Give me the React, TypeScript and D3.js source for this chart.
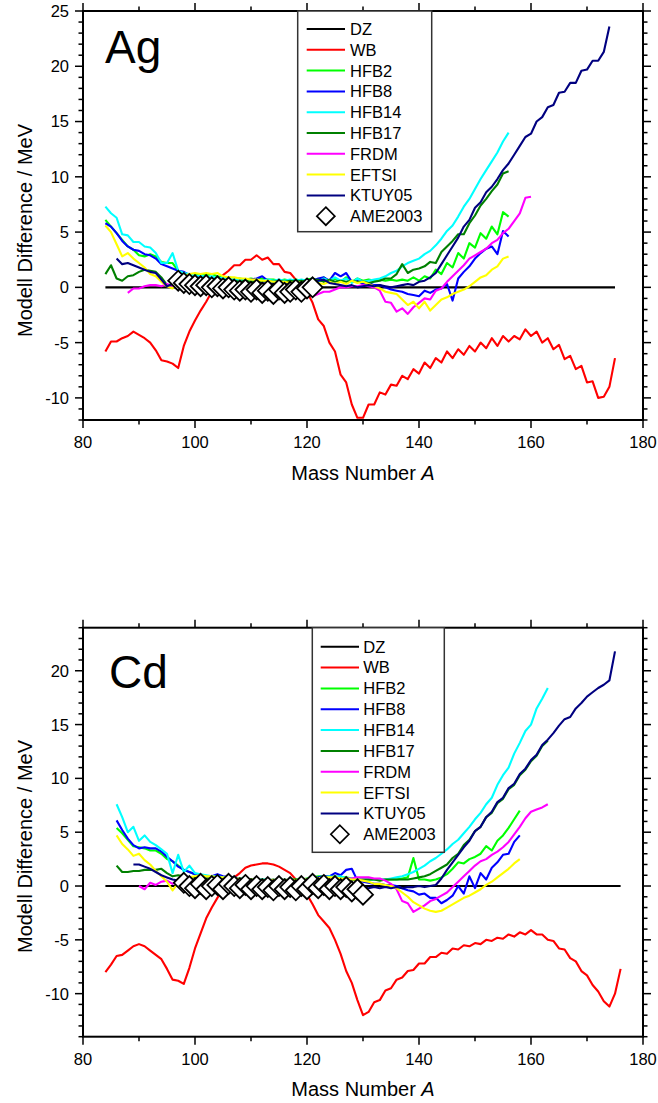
import React from "react";
import * as d3 from "d3";

const W = 658;
const H = 1103;
const FONT = "'Liberation Sans', Arial, Helvetica, sans-serif";

// ---- legend / series metadata ----
const SERIES_NAMES = ["DZ", "WB", "HFB2", "HFB8", "HFB14", "HFB17", "FRDM", "EFTSI", "KTUY05"];
const SERIES_COLORS = ["#000000", "#ff0000", "#00ff00", "#0000ff", "#00ffff", "#008000", "#ff00ff", "#ffff00", "#000080"];
const AME_NAME = "AME2003";

// ---- axis ticks ----
const X_MAJOR = [80, 100, 120, 140, 160, 180];
const X_MINOR = [90, 110, 130, 150, 170];
const AG_Y_MAJOR = [-10, -5, 0, 5, 10, 15, 20, 25];
const CD_Y_MAJOR = [-10, -5, 0, 5, 10, 15, 20];

// ================= Ag (top panel) =================
const AG_DZ_A = [84, 175];
const AG_DZ = [0, 0];
const AG_WB_START = 84;
const AG_WB = [
  -5.8, -4.9, -4.9, -4.6, -4.4, -4.0, -4.3, -4.6, -5.0, -5.7,
  -6.6, -6.7, -6.9, -7.3, -5.3, -4.0, -3.0, -2.1, -1.3, -0.4,
  0.6, 1.1, 1.5, 2.0, 2.0, 2.5, 2.5, 2.9, 2.5, 2.7,
  2.1, 2.1, 1.4, 1.3, 0.7, 0.4, -0.4, -1.4, -2.9, -3.5,
  -5.0, -5.8, -7.9, -8.6, -10.6, -11.8, -11.8, -10.6, -10.6, -9.5,
  -9.7, -8.8, -8.9, -8.0, -8.3, -7.4, -7.8, -6.8, -7.3, -6.4,
  -6.8, -5.8, -6.4, -5.6, -6.1, -5.3, -5.8, -5.0, -5.5, -4.6,
  -5.3, -4.4, -4.9, -4.4, -4.7, -3.8, -4.4, -4.0, -5.0, -4.6,
  -5.6, -5.2, -6.5, -6.2, -7.4, -7.1, -8.6, -8.5, -10.0, -9.9,
  -9.0, -6.4,
];
const AG_HFB2_START = 84;
const AG_HFB2 = [
  6.1, 5.5, 4.9, 4.3, 3.7, 3.4, 2.9, 2.8, 3.0, 2.8,
  2.3, 2.2, 2.2, 1.5, 1.1, 1.0, 1.1, 1.2, 1.1, 1.2,
  1.0, 0.9, 0.9, 0.8, 0.8, 0.7, 0.8, 0.7, 0.8, 0.7,
  0.7, 0.6, 0.7, 0.6, 0.7, 0.6, 0.7, 0.8, 0.6, 0.9,
  0.5, 0.8, 0.5, 0.9, 0.5, 0.8, 0.6, 0.7, 0.6, 0.7,
  0.6, 0.7, 0.6, 0.7, 0.6, 0.9, 0.6, 1.0, 0.8, 1.6,
  1.2, 2.2, 1.8, 3.1, 2.6, 4.0, 3.6, 4.9, 4.4, 5.5,
  4.8, 6.8, 6.4,
];
const AG_HFB8_START = 84;
const AG_HFB8 = [
  5.8, 5.5, 4.9, 4.2, 3.7, 3.4, 3.3, 3.0, 2.9, 2.6,
  2.1, 1.9, 1.7, 1.5, 1.4, 1.1, 0.9, 1.0, 0.8, 0.9,
  0.7, 0.8, 0.6, 0.7, 0.6, 0.7, 0.7, 0.8, 1.0, 0.6,
  0.5, 0.6, 0.5, 0.6, 0.5, 0.6, 0.5, 0.6, 0.8, 0.9,
  0.6, 1.3, 1.0, 1.3, 0.5, 0.6, 0.3, 0.4, 0.2, 0.2,
  0.0, -0.2, -0.3, -0.4, -0.6, -0.7, -0.8, -0.3, -0.5, -0.2,
  -0.1, 0.3, -1.2, 0.8, 1.4, 1.9, 2.6, 3.1, 3.5, 3.7,
  3.0, 5.1, 4.6,
];
const AG_HFB14_START = 84;
const AG_HFB14 = [
  7.3, 6.7, 6.3, 4.8, 4.7, 4.1, 4.1, 3.7, 3.6, 3.1,
  2.2, 2.2, 3.1, 1.5, 1.3, 1.2, 1.0, 1.1, 0.9, 1.0,
  0.8, 0.9, 0.7, 0.8, 0.6, 0.7, 0.6, 0.7, 0.6, 0.7,
  0.6, 0.7, 0.6, 0.7, 0.6, 0.7, 0.6, 0.7, 0.5, 0.8,
  0.6, 0.9, 0.6, 0.8, 0.4, 0.8, 0.5, 0.6, 0.7, 0.8,
  1.0, 1.3, 1.5, 1.9, 2.2, 2.4, 2.6, 3.0, 3.3, 3.8,
  4.4, 5.1, 5.6, 6.4, 7.3, 8.0, 8.9, 9.8, 10.6, 11.4,
  12.2, 13.2, 14.0,
];
const AG_HFB17_START = 84;
const AG_HFB17 = [
  1.2, 2.0, 0.8, 0.6, 1.0, 1.1, 1.4, 1.6, 1.5, 1.4,
  0.9, 0.2, 0.1, 0.2, 0.4, 0.5, 0.6, 0.7, 0.6, 0.7,
  0.6, 0.7, 0.6, 0.6, 0.5, 0.6, 0.5, 0.6, 0.5, 0.6,
  0.5, 0.6, 0.5, 0.6, 0.5, 0.6, 0.5, 0.6, 0.7, 0.5,
  0.7, 0.5, 0.6, 0.5, 0.6, 0.5, 0.5, 0.4, 0.5, 0.6,
  0.8, 0.8, 1.2, 2.1, 1.3, 1.6, 1.7, 1.9, 2.3, 2.2,
  3.2, 3.7, 4.2, 4.8, 4.8, 5.8, 6.5, 7.4, 8.0, 8.7,
  9.3, 10.3, 10.5,
];
const AG_FRDM_START = 88;
const AG_FRDM = [
  -0.5, -0.1, -0.1, 0.1, 0.2, 0.2, 0.1, 0.3, 0.1, 0.0,
  -0.2, 0.0, -0.1, 0.1, 0.0, 0.1, -0.1, 0.0, -0.2, 0.0,
  -0.1, 0.0, -0.2, 0.0, -0.1, 0.0, -0.2, -0.1, -0.3, -0.2,
  -0.4, -0.3, -0.6, -0.8, -0.6, -0.4, -0.4, -0.2, 0.0, 0.0,
  0.1, 0.1, 0.2, 0.1, 0.0, -0.3, -1.3, -1.4, -2.2, -1.9,
  -2.4, -1.8, -1.4, -1.0, -1.1, -0.3, -0.1, 0.5, 1.0, 1.5,
  2.0, 2.6, 2.9, 3.2, 3.5, 4.0, 4.3, 4.9, 5.3, 6.0,
  6.7, 8.1, 8.2,
];
const AG_EFTSI_START = 84;
const AG_EFTSI = [
  5.6, 5.0, 3.9, 2.8, 3.1, 2.6, 2.2, 1.8, 1.2, 1.0,
  0.5, 0.1, -0.1, 0.6, 1.0, 1.2, 1.3, 1.2, 1.3, 1.2,
  1.3, 1.0, 0.9, 0.9, 0.8, 0.8, 0.7, 0.7, 0.6, 0.6,
  0.5, 0.5, 0.5, 0.4, 0.5, 0.4, 0.4, 0.2, 0.4, 0.3,
  0.5, 0.3, 0.5, 0.3, 0.6, 0.4, 0.5, 0.3, 0.1, -0.1,
  -0.4, -0.5, -0.6, -1.1, -1.6, -1.3, -1.9, -1.3, -2.1, -1.6,
  -1.1, -0.9, -0.6, -0.4, -0.2, 0.1, 0.5, 0.9, 1.1, 1.6,
  1.9, 2.6, 2.8,
];
const AG_KTUY05_START = 86;
const AG_KTUY05 = [
  2.6, 2.1, 2.2, 2.0, 1.8, 1.6, 1.4, 1.3, 0.7, 0.1,
  0.3, 0.5, 0.7, 0.8, 0.7, 0.6, 0.5, 0.5, 0.4, 0.4,
  0.3, 0.3, 0.4, 0.3, 0.4, 0.3, 0.4, 0.3, 0.3, 0.2,
  0.3, 0.2, 0.3, 0.2, 0.3, 0.3, 0.6, 0.7, 0.4, 0.3,
  0.2, 0.1, 0.2, 0.0, 0.1, 0.2, 0.1, 0.2, 0.1, 0.0,
  0.1, 0.2, 0.3, 0.2, 0.5, 0.6, 0.9, 1.3, 2.1, 2.9,
  3.7, 4.5, 5.5, 6.1, 7.2, 7.7, 8.6, 9.1, 9.8, 10.6,
  11.2, 12.0, 12.8, 13.6, 13.9, 15.0, 15.4, 16.3, 16.5, 17.6,
  17.7, 18.5, 18.5, 19.6, 19.7, 20.5, 20.5, 21.3, 23.6,
];
const AG_AME_START = 97;
const AG_AME = [
  0.6, 0.4, 0.3, 0.2, 0.1, 0.2, 0.0, 0.1, -0.1, 0.0,
  -0.2, -0.3, -0.2, -0.4, -0.2, -0.5, -0.3, -0.6, -0.2, -0.5,
  -0.4, -0.2, -0.4, -0.1, 0.0,
];

// ================= Cd (bottom panel) =================
const CD_DZ_A = [84, 176];
const CD_DZ = [0, 0];
const CD_WB_START = 84;
const CD_WB = [
  -8.0, -7.3, -6.5, -6.4, -6.0, -5.6, -5.4, -5.6, -6.0, -6.4,
  -6.8, -7.7, -8.7, -8.8, -9.1, -7.6, -5.8, -4.4, -3.0, -2.0,
  -1.1, -0.3, 0.3, 0.8, 1.2, 1.7, 1.9, 2.0, 2.1, 2.1,
  2.0, 1.8, 1.5, 1.2, 0.6, 0.0, -0.8, -1.7, -2.7, -3.3,
  -3.9, -5.0, -6.3, -7.9, -9.0, -10.6, -12.0, -11.7, -10.8, -10.6,
  -9.7, -9.5, -8.7, -8.5, -7.9, -7.8, -7.2, -7.2, -6.6, -6.6,
  -6.2, -6.3, -5.8, -5.9, -5.5, -5.6, -5.3, -5.4, -5.0, -5.1,
  -4.8, -4.9, -4.5, -4.7, -4.3, -4.5, -4.1, -4.5, -4.5, -5.0,
  -5.1, -5.8, -5.9, -6.7, -7.0, -7.9, -8.3, -9.2, -9.8, -10.7,
  -11.2, -10.0, -7.7,
];
const CD_HFB2_START = 86;
const CD_HFB2 = [
  5.4, 4.9, 4.3, 3.7, 3.6, 3.5, 3.3, 3.3, 3.0, 2.5,
  2.3, 1.9, 1.5, 1.3, 1.1, 1.0, 0.9, 0.9, 0.8, 0.8,
  0.7, 0.7, 0.7, 0.6, 0.6, 0.6, 0.5, 0.6, 0.5, 0.6,
  0.5, 0.6, 0.6, 0.6, 0.7, 0.8, 0.9, 0.9, 0.8, 0.9,
  0.8, 0.8, 0.7, 0.7, 0.6, 0.6, 0.6, 0.6, 0.6, 0.6,
  0.6, 0.7, 0.8, 2.6, 0.6, 0.6, 0.5, 0.6, 0.8, 1.1,
  1.6, 2.2, 2.1, 2.5, 2.7, 3.0, 3.7, 3.3, 4.2, 4.7,
  5.4, 6.2, 7.0,
];
const CD_HFB8_START = 86;
const CD_HFB8 = [
  6.1, 5.2, 4.4, 3.8, 3.5, 3.6, 3.5, 3.5, 3.2, 2.7,
  2.3, 1.8, 1.5, 1.3, 1.1, 1.0, 0.9, 0.9, 1.1, 0.9,
  0.8, 0.8, 0.7, 0.7, 0.6, 0.6, 0.5, 0.6, 0.5, 0.5,
  0.4, 0.5, 0.4, 0.5, 0.5, 0.6, 0.8, 0.9, 0.9, 1.2,
  1.0, 1.5, 1.6, 0.5, 0.4, 0.3, 0.2, 0.2, 0.1, 0.1,
  0.0, -0.2, -0.4, -0.5, -0.8, -0.7, -1.1, -1.1, -1.6, -1.3,
  -0.9, 0.0, -0.7, 0.9, -0.2, 1.2, 0.6, 1.7, 2.2, 2.9,
  3.0, 4.1, 4.7,
];
const CD_HFB14_START = 86;
const CD_HFB14 = [
  7.6, 6.4, 5.0, 5.5, 4.2, 4.7, 4.1, 3.8, 3.4, 3.0,
  1.2, 2.9, 1.3, 1.9, 1.2, 1.1, 1.0, 0.9, 0.9, 0.8,
  0.8, 0.7, 0.7, 0.7, 0.6, 0.6, 0.6, 0.6, 0.5, 0.6,
  0.5, 0.6, 0.5, 0.6, 0.6, 0.6, 0.7, 0.8, 0.9, 0.8,
  0.9, 0.7, 0.7, 0.6, 0.6, 0.6, 0.6, 0.6, 0.6, 0.7,
  0.8, 0.9, 1.1, 1.3, 1.6, 1.9, 2.3, 2.6, 3.0, 3.4,
  3.9, 4.3, 4.9, 5.5, 6.2, 6.8, 7.6, 8.2, 9.4, 10.3,
  11.0, 12.3, 13.3, 14.4, 15.0, 16.5, 17.4, 18.4,
];
const CD_HFB17_START = 86;
const CD_HFB17 = [
  1.9, 1.3, 1.3, 1.4, 1.4, 1.5, 1.5, 1.5, 1.6, 1.2,
  0.9, 1.0, 0.9, 0.8, 0.8, 0.7, 0.7, 0.7, 0.6, 0.6,
  0.6, 0.5, 0.6, 0.5, 0.6, 0.5, 0.6, 0.5, 0.6, 0.5,
  0.6, 0.5, 0.6, 0.5, 0.6, 0.6, 0.7, 0.6, 0.7, 0.6,
  0.6, 0.5, 0.6, 0.5, 0.6, 0.6, 0.6, 0.5, 0.6, 0.6,
  0.6, 0.6, 0.6, 0.7, 0.8, 0.9, 1.1, 1.4, 1.7, 2.0,
  2.6, 3.0, 3.8, 4.3, 5.1, 5.5, 6.4, 6.8, 7.7, 8.1,
  9.0, 9.4, 10.3, 10.8, 11.6, 12.1, 13.0, 13.5,
];
const CD_FRDM_START = 90;
const CD_FRDM = [
  0.0, -0.3, 0.3, 0.1, 0.4, 0.5, 0.2, 0.5, 0.3, 0.5,
  0.4, 0.6, 0.5, 0.4, 0.5, 0.6, 0.4, 0.5, 0.3, 0.5,
  0.4, 0.5, 0.3, 0.4, 0.5, 0.3, 0.4, 0.5, 0.4, 0.5,
  0.6, 0.5, 0.7, 0.6, 0.6, 0.7, 0.6, 0.7, 0.7, 0.8,
  0.8, 0.8, 0.7, 0.7, 0.5, 0.2, -0.3, -1.4, -1.6, -2.4,
  -2.1, -1.8, -1.4, -1.2, -0.9, -0.6, -0.1, 0.4, 0.9, 1.4,
  1.9, 2.3, 2.5, 2.9, 3.2, 3.6, 4.1, 4.8, 5.5, 6.3,
  6.9, 7.1, 7.3, 7.6,
];
const CD_EFTSI_START = 86;
const CD_EFTSI = [
  4.7, 3.9, 3.4, 2.8, 3.0, 2.4, 2.0, 1.4, 0.9, 0.4,
  -0.4, 0.3, 0.6, 0.8, 0.9, 1.0, 0.9, 0.9, 0.8, 0.8,
  0.7, 0.7, 0.7, 0.6, 0.6, 0.6, 0.5, 0.5, 0.5, 0.5,
  0.5, 0.5, 0.5, 0.6, 0.6, 0.7, 0.7, 0.8, 0.8, 0.8,
  0.7, 0.7, 0.6, 0.6, 0.5, 0.4, 0.2, 0.2, 0.1, 0.0,
  -0.2, -0.6, -1.0, -1.5, -1.8, -2.1, -2.3, -2.4, -2.3, -2.0,
  -1.7, -1.4, -1.1, -0.9, -0.6, -0.3, 0.1, 0.4, 0.8, 1.2,
  1.6, 2.1, 2.5,
];
const CD_KTUY05_START = 89;
const CD_KTUY05 = [
  2.0, 2.0, 1.8, 1.6, 1.3, 1.0, 0.8, 0.6, 0.5, 0.4,
  0.5, 0.4, 0.4, 0.3, 0.4, 0.3, 0.4, 0.3, 0.3, 0.2,
  0.3, 0.2, 0.3, 0.2, 0.2, 0.1, 0.2, 0.1, 0.2, 0.1,
  0.2, 0.1, 0.2, 0.3, 0.2, 0.3, 0.2, 0.1, 0.0, -0.1,
  0.0, -0.1, -0.2, -0.1, -0.2, -0.1, -0.2, -0.1, -0.2, -0.1,
  -0.1, 0.0, -0.1, 0.0, 0.1, 0.7, 1.5, 2.2, 2.9, 3.6,
  4.2, 5.1, 5.5, 6.4, 6.9, 7.8, 8.2, 9.1, 9.5, 10.4,
  10.9, 11.7, 12.2, 13.1, 13.6, 14.2, 14.9, 15.5, 15.7, 16.5,
  17.0, 17.6, 18.0, 18.4, 18.7, 19.1, 21.8,
];
const CD_AME_START = 98;
const CD_AME = [
  0.3, 0.0, -0.2, 0.2, -0.3, 0.0, 0.1, -0.3, 0.2, 0.0,
  -0.2, 0.1, -0.3, 0.0, -0.3, -0.1, -0.4, 0.0, -0.3, -0.1,
  -0.4, 0.0, -0.3, 0.2, -0.2, 0.1, -0.3, 0.0, -0.3, -0.1,
  -0.5, -0.3, -0.8,
];

type Pt = [number, number];
const seq = (start: number, vals: number[]): Pt[] => vals.map((v, i) => [start + i, v] as Pt);
const pairs = (xs: number[], vals: number[]): Pt[] => vals.map((v, i) => [xs[i], v] as Pt);

const AG_SERIES: Pt[][] = [
  pairs(AG_DZ_A, AG_DZ),
  seq(AG_WB_START, AG_WB),
  seq(AG_HFB2_START, AG_HFB2),
  seq(AG_HFB8_START, AG_HFB8),
  seq(AG_HFB14_START, AG_HFB14),
  seq(AG_HFB17_START, AG_HFB17),
  seq(AG_FRDM_START, AG_FRDM),
  seq(AG_EFTSI_START, AG_EFTSI),
  seq(AG_KTUY05_START, AG_KTUY05),
];
const CD_SERIES: Pt[][] = [
  pairs(CD_DZ_A, CD_DZ),
  seq(CD_WB_START, CD_WB),
  seq(CD_HFB2_START, CD_HFB2),
  seq(CD_HFB8_START, CD_HFB8),
  seq(CD_HFB14_START, CD_HFB14),
  seq(CD_HFB17_START, CD_HFB17),
  seq(CD_FRDM_START, CD_FRDM),
  seq(CD_EFTSI_START, CD_EFTSI),
  seq(CD_KTUY05_START, CD_KTUY05),
];

type PanelCfg = {
  element: string;
  elX: number;
  elY: number;
  top: number;
  bottom: number;
  left: number;
  right: number;
  yDomain: [number, number];
  yMajor: number[];
  series: Pt[][];
  ame: Pt[];
  legend: { x0: number; x1: number; y0: number; y1: number; lx0: number; lx1: number; tx: number; row0: number; step: number };
  yTitleCenter: number;
  xTitleY: number;
};

const DIAMOND_PLOT = "M0,-10L10,0L0,10L-10,0Z";
const DIAMOND_LEG = "M0,-9L9,0L0,9L-9,0Z";

function Panel({ c }: { c: PanelCfg }) {
  const x = d3.scaleLinear().domain([80, 180]).range([c.left, c.right]);
  const y = d3.scaleLinear().domain(c.yDomain).range([c.bottom, c.top]);
  const line = d3
    .line<Pt>()
    .x((d) => x(d[0]))
    .y((d) => y(d[1]));
  const yMinor = d3.range(Math.ceil(c.yDomain[0]), c.yDomain[1] + 0.001, 1).filter((v) => !c.yMajor.includes(v));
  const tickW = 1.5;
  const MAJ = 8;
  const MIN = 4.5;
  const lg = c.legend;
  return (
    <g>
      {c.series.map((pts, i) => (
        <path key={i} d={line(pts) || ""} fill="none" stroke={SERIES_COLORS[i]} strokeWidth={2.1} strokeLinejoin="round" />
      ))}
      {c.ame.map((d, i) => (
        <path key={"a" + i} d={DIAMOND_PLOT} transform={`translate(${x(d[0])},${y(d[1])})`} fill="#fff" stroke="#000" strokeWidth={1.8} />
      ))}
      <rect x={c.left} y={c.top} width={c.right - c.left} height={c.bottom - c.top} fill="none" stroke="#000" strokeWidth={2} />
      {X_MAJOR.map((v) => (
        <g key={"xm" + v}>
          <line x1={x(v)} x2={x(v)} y1={c.bottom} y2={c.bottom + MAJ} stroke="#000" strokeWidth={tickW} />
          <line x1={x(v)} x2={x(v)} y1={c.top} y2={c.top - MAJ} stroke="#000" strokeWidth={tickW} />
          <text x={x(v)} y={c.bottom + 28} textAnchor="middle" fontSize={16.5} fontFamily={FONT}>
            {v}
          </text>
        </g>
      ))}
      {X_MINOR.map((v) => (
        <g key={"xn" + v}>
          <line x1={x(v)} x2={x(v)} y1={c.bottom} y2={c.bottom + MIN} stroke="#000" strokeWidth={tickW} />
          <line x1={x(v)} x2={x(v)} y1={c.top} y2={c.top - MIN} stroke="#000" strokeWidth={tickW} />
        </g>
      ))}
      {c.yMajor.map((v) => (
        <g key={"ym" + v}>
          <line x1={c.left} x2={c.left - MAJ} y1={y(v)} y2={y(v)} stroke="#000" strokeWidth={tickW} />
          <line x1={c.right} x2={c.right + MAJ} y1={y(v)} y2={y(v)} stroke="#000" strokeWidth={tickW} />
          <text x={c.left - 14} y={y(v)} dy="0.36em" textAnchor="end" fontSize={16.5} fontFamily={FONT}>
            {v}
          </text>
        </g>
      ))}
      {yMinor.map((v) => (
        <g key={"yn" + v}>
          <line x1={c.left} x2={c.left - MIN} y1={y(v)} y2={y(v)} stroke="#000" strokeWidth={tickW} />
          <line x1={c.right} x2={c.right + MIN} y1={y(v)} y2={y(v)} stroke="#000" strokeWidth={tickW} />
        </g>
      ))}
      <text transform={`translate(32,${c.yTitleCenter}) rotate(-90)`} textAnchor="middle" fontSize={20} fontFamily={FONT}>
        Modell Difference / MeV
      </text>
      <text x={(c.left + c.right) / 2} y={c.xTitleY} textAnchor="middle" fontSize={20} fontFamily={FONT}>
        Mass Number <tspan fontStyle="italic">A</tspan>
      </text>
      <text x={c.elX} y={c.elY} fontSize={46} fontFamily={FONT}>
        {c.element}
      </text>
      <rect x={lg.x0} y={lg.y0} width={lg.x1 - lg.x0} height={lg.y1 - lg.y0} fill="#fff" stroke="#333" strokeWidth={1.5} />
      {SERIES_NAMES.map((n, i) => {
        const yy = lg.row0 + i * lg.step;
        return (
          <g key={"l" + n}>
            <line x1={lg.lx0} x2={lg.lx1} y1={yy} y2={yy} stroke={SERIES_COLORS[i]} strokeWidth={2} />
            <text x={lg.tx} y={yy} dy="0.36em" fontSize={16.5} fontFamily={FONT}>
              {n}
            </text>
          </g>
        );
      })}
      {(() => {
        const yy = lg.row0 + 9 * lg.step;
        return (
          <g>
            <path d={DIAMOND_LEG} transform={`translate(${(lg.lx0 + lg.lx1) / 2},${yy})`} fill="#fff" stroke="#000" strokeWidth={1.7} />
            <text x={lg.tx} y={yy} dy="0.36em" fontSize={16.5} fontFamily={FONT}>
              {AME_NAME}
            </text>
          </g>
        );
      })()}
    </g>
  );
}

const AG_CFG: PanelCfg = {
  element: "Ag",
  elX: 105,
  elY: 63,
  top: 11,
  bottom: 420,
  left: 83,
  right: 643,
  yDomain: [-12, 25],
  yMajor: AG_Y_MAJOR,
  series: AG_SERIES,
  ame: seq(AG_AME_START, AG_AME),
  legend: { x0: 297.7, x1: 431.7, y0: 11, y1: 231.7, lx0: 306.7, lx1: 345, tx: 350, row0: 29, step: 20.8 },
  yTitleCenter: 230.5,
  xTitleY: 480,
};

const CD_CFG: PanelCfg = {
  element: "Cd",
  elX: 109,
  elY: 688,
  top: 627.7,
  bottom: 1036.7,
  left: 83,
  right: 643,
  yDomain: [-14, 24],
  yMajor: CD_Y_MAJOR,
  series: CD_SERIES,
  ame: seq(CD_AME_START, CD_AME),
  legend: { x0: 312.3, x1: 444.3, y0: 627.7, y1: 852.3, lx0: 320.7, lx1: 359, tx: 363.3, row0: 646.7, step: 20.84 },
  yTitleCenter: 846.5,
  xTitleY: 1096,
};

export default function App() {
  return (
    <svg width={W} height={H} viewBox={`0 0 ${W} ${H}`} style={{ position: "absolute", left: 0, top: 0, background: "#fff" }}>
      <rect x={0} y={0} width={W} height={H} fill="#fff" />
      <Panel c={AG_CFG} />
      <Panel c={CD_CFG} />
    </svg>
  );
}
